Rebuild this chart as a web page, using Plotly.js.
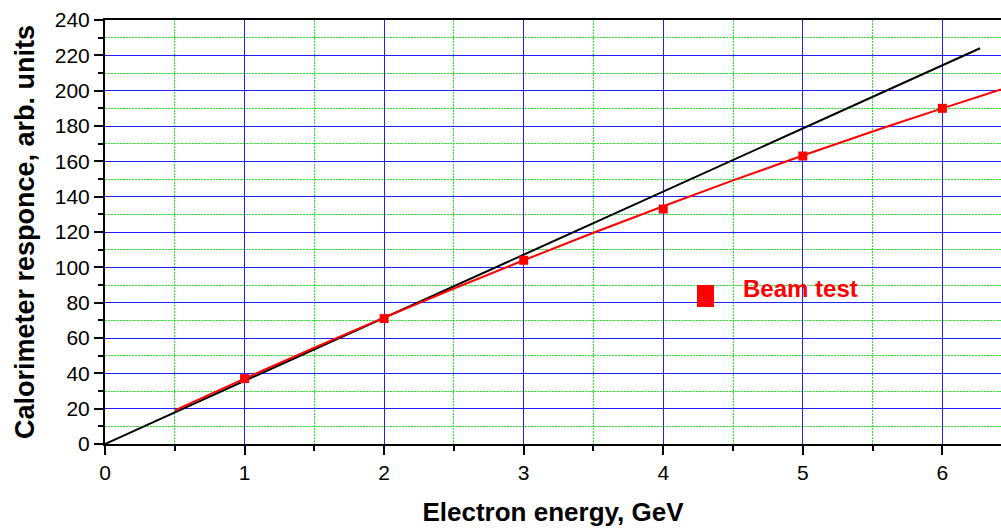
<!DOCTYPE html>
<html>
<head>
<meta charset="utf-8">
<script src="https://cdn.plot.ly/plotly-3.0.1.min.js"></script>
<style>
  html, body { margin: 0; padding: 0; background: #ffffff; }
  #chart { width: 1001px; height: 528px; }
</style>
</head>
<body>
<div id="chart"></div>
<script>
// Beam-test measurements: calorimeter response vs electron energy
const energyGeV = [1, 2, 3, 4, 5, 6];
const response = [37, 71, 104, 133, 163, 190];

// Smooth fit through the beam-test points
const fitEnergy = [0.5, 1.0, 1.5, 2.0, 2.5, 3.0, 3.5, 4.0, 4.5, 5.0, 5.5, 6.0, 6.42];
const fitResponse = [19.0, 37.0, 54.5, 71.5, 88.0, 104.0, 119.6, 134.6, 149.2, 163.3, 176.9, 190.0, 200.7];

// Linear reference (proportional response)
const linEnergy = [0, 6.27];
const linResponse = [0, 224];

const xTicks = [0, 1, 2, 3, 4, 5, 6];
const yTicks = [0, 20, 40, 60, 80, 100, 120, 140, 160, 180, 200, 220, 240];

const legendLabel = 'Beam test';
const xTitle = 'Electron energy, GeV';
const yTitle = 'Calorimeter responce, arb. units';

const RED = '#ff0000';
const FONT = '"Liberation Sans", Arial, sans-serif';

const traces = [
  {
    x: linEnergy, y: linResponse, type: 'scatter', mode: 'lines',
    line: { color: '#000000', width: 2 }, hoverinfo: 'skip'
  },
  {
    x: fitEnergy, y: fitResponse, type: 'scatter', mode: 'lines',
    line: { color: RED, width: 2, shape: 'spline' }, hoverinfo: 'skip'
  },
  {
    x: energyGeV, y: response, type: 'scatter', mode: 'markers',
    marker: { symbol: 'square', size: 9, color: RED }
  }
];

const axisCommon = {
  showline: true, linecolor: '#000000', linewidth: 2,
  ticks: 'outside', ticklen: 9, tickwidth: 2, tickcolor: '#000000',
  showgrid: true, gridcolor: '#1f1fff', gridwidth: 1,
  zeroline: false,
  tickfont: { family: FONT, size: 21, color: '#000000' }
};

const minorGrid = {
  showgrid: true, gridcolor: '#22ee22', griddash: '2px,1px', gridwidth: 1,
  ticks: 'outside', ticklen: 5, tickwidth: 2, tickcolor: '#000000'
};

const layout = {
  width: 1001, height: 528,
  margin: { l: 105, r: 0, t: 20, b: 84 },
  paper_bgcolor: '#ffffff', plot_bgcolor: '#ffffff',
  showlegend: false,
  xaxis: Object.assign({}, axisCommon, {
    range: [0, 6.42], tickvals: xTicks, mirror: true,
    minor: Object.assign({ dtick: 0.5 }, minorGrid),
    title: { text: '<b>' + xTitle + '</b>', font: { family: FONT, size: 26, color: '#000000' }, standoff: 20 }
  }),
  yaxis: Object.assign({}, axisCommon, {
    range: [0, 240], tickvals: yTicks,
    minor: Object.assign({ dtick: 10 }, minorGrid),
    title: { text: '<b>' + yTitle + '</b>', font: { family: FONT, size: 27, color: '#000000' }, standoff: 12 }
  }),
  shapes: [
    { type: 'rect', xref: 'paper', yref: 'paper', x0: 0.6607, x1: 0.6797, y0: 0.3231, y1: 0.375,
      fillcolor: RED, line: { width: 0 } }
  ],
  annotations: [
    { xref: 'paper', yref: 'paper', x: 0.7098, y: 0.3656, xanchor: 'left', yanchor: 'middle',
      text: '<b>' + legendLabel + '</b>', showarrow: false,
      font: { family: FONT, size: 24, color: RED } }
  ]
};

Plotly.newPlot('chart', traces, layout, { displayModeBar: false, staticPlot: true });
</script>
</body>
</html>
